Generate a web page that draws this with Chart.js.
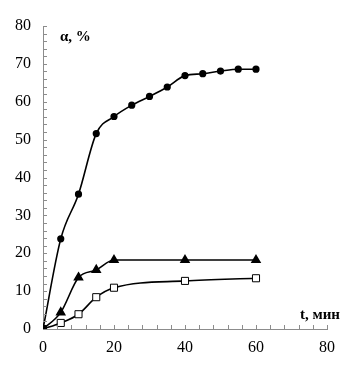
<!DOCTYPE html>
<html lang="ru">
<head>
  <meta charset="UTF-8">
  <title>α, % от t, мин</title>
  <script src="https://cdn.jsdelivr.net/npm/chart.js"></script>
  <style>
    body { margin: 0; background: #ffffff; }
    #wrap { width: 344px; height: 367px; }
  </style>
</head>
<body>
  <div id="wrap"><canvas id="chart"></canvas></div>
  <script>
    // данные
    const tCircles = [0, 5, 10, 15, 20, 25, 30, 35, 40, 45, 50, 55, 60];
    const aCircles = [0, 23.8, 35.6, 51.6, 56.1, 59.1, 61.4, 63.9, 66.9, 67.4, 68.1, 68.6, 68.6];
    const tTriangles = [0, 5, 10, 15, 20, 40, 60];
    const aTriangles = [0, 4.4, 13.6, 15.6, 18.2, 18.2, 18.2];
    const tSquares = [0, 5, 10, 15, 20, 40, 60];
    const aSquares = [0, 1.6, 3.9, 8.4, 10.9, 12.7, 13.4];
    const xTicks = [0, 20, 40, 60, 80];
    const yTicks = [0, 10, 20, 30, 40, 50, 60, 70, 80];

    const toPoints = (xs, ys) => xs.map((x, i) => ({ x: x, y: ys[i] }));
    const axisGray = '#8c8c8c';

    // мелкие засечки внутрь области графика + подписи осей
    const extras = {
      id: 'extras',
      afterDraw(chart) {
        const c = chart.ctx;
        const xs = chart.scales.x, ys = chart.scales.y;
        const x0 = xs.getPixelForValue(0), y0 = ys.getPixelForValue(0);
        c.save();
        c.strokeStyle = axisGray;
        c.lineWidth = 1;
        c.beginPath();
        for (let v = 4; v <= 80; v += 4) {
          const px = Math.round(xs.getPixelForValue(v)) + 0.5;
          c.moveTo(px, y0);
          c.lineTo(px, y0 - 4);
        }
        for (let v = 2; v <= 80; v += 2) {
          const py = Math.round(ys.getPixelForValue(v)) + 0.5;
          c.moveTo(x0, py);
          c.lineTo(x0 + 4, py);
        }
        c.stroke();
        c.fillStyle = '#000';
        c.font = 'bold 15px "Liberation Serif"';
        c.textBaseline = 'alphabetic';
        c.textAlign = 'left';
        c.fillText('α, %', 60, 41);
        c.textAlign = 'right';
        c.fillText('t, мин', 340, 319);
        c.restore();
      }
    };

    const base = {
      borderColor: '#000',
      borderWidth: 1.6,
      pointBackgroundColor: '#000',
      pointBorderColor: '#000',
      cubicInterpolationMode: 'monotone',
      fill: false
    };

    new Chart(document.getElementById('chart'), {
      type: 'line',
      data: {
        datasets: [
          Object.assign({}, base, { data: toPoints(tCircles, aCircles), pointStyle: 'circle', pointRadius: 2.8 }),
          Object.assign({}, base, { data: toPoints(tTriangles, aTriangles), pointStyle: 'triangle', pointRadius: 4.5 }),
          Object.assign({}, base, { data: toPoints(tSquares, aSquares), pointStyle: 'rect', pointRadius: 5,
            pointBackgroundColor: '#fff', pointBorderWidth: 1 })
        ]
      },
      options: {
        responsive: true,
        maintainAspectRatio: false,
        animation: false,
        layout: { padding: { top: 26, right: 14, left: 0, bottom: 0 } },
        plugins: { legend: { display: false }, tooltip: { enabled: false } },
        scales: {
          x: {
            type: 'linear',
            min: 0, max: 80,
            afterFit: s => { s.height = 38; },
            afterBuildTicks: s => { s.ticks = xTicks.map(v => ({ value: v })); },
            grid: { display: true, drawOnChartArea: false, drawTicks: false },
            border: { color: axisGray, width: 1 },
            ticks: { color: '#000', padding: 9, font: { family: 'Liberation Serif', size: 16 } }
          },
          y: {
            type: 'linear',
            min: 0, max: 80,
            afterFit: s => { s.width = 43; },
            afterBuildTicks: s => { s.ticks = yTicks.map(v => ({ value: v })); },
            grid: { display: true, drawOnChartArea: false, drawTicks: false },
            border: { color: axisGray, width: 1 },
            ticks: { color: '#000', padding: 12, font: { family: 'Liberation Serif', size: 16 } }
          }
        }
      },
      plugins: [extras]
    });
  </script>
</body>
</html>
